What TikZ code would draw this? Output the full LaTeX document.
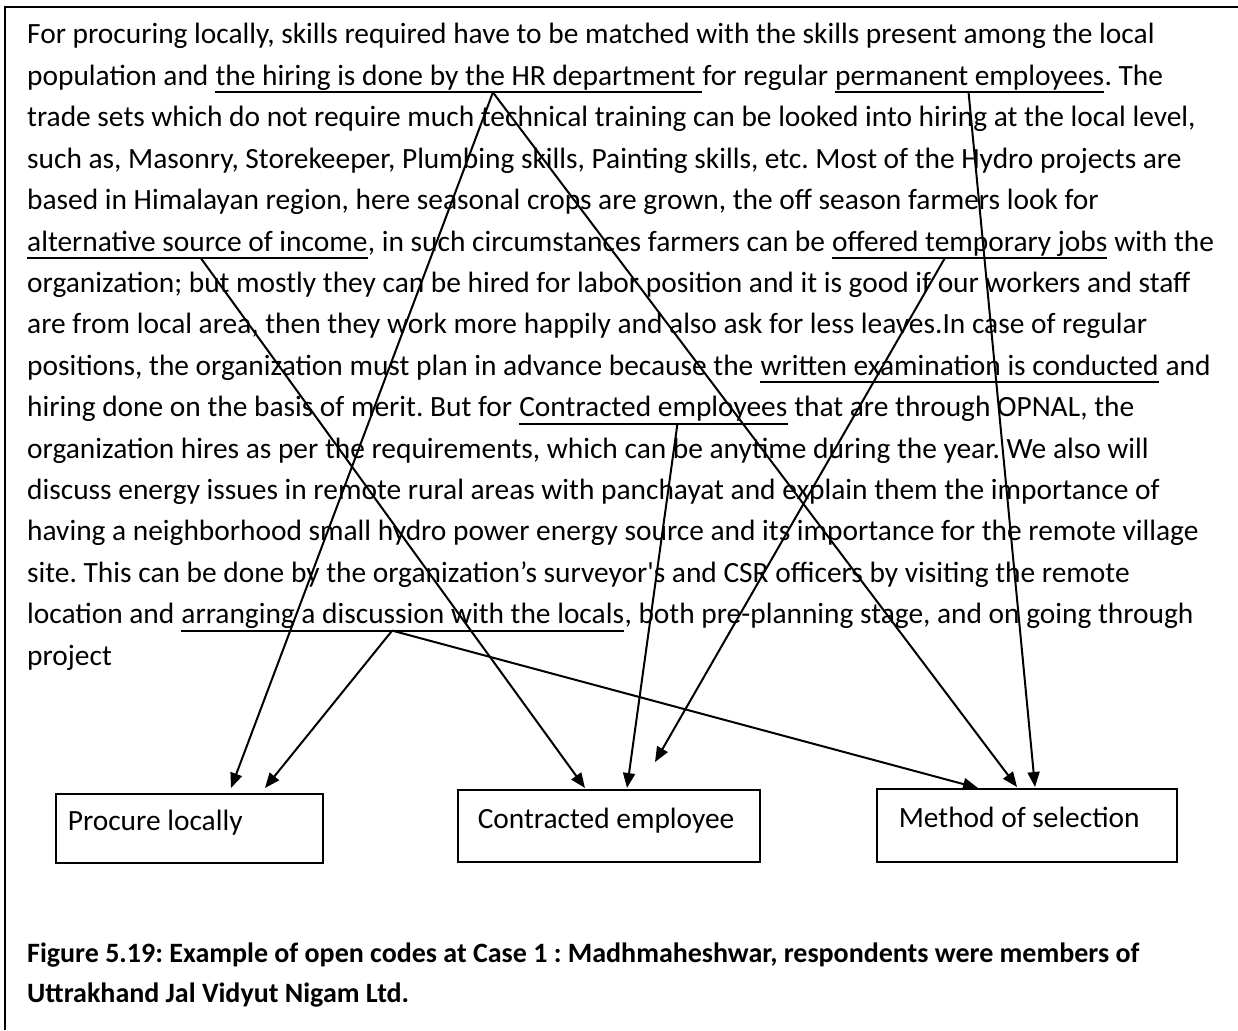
\documentclass[tikz,border=0pt]{standalone}
\usepackage{fontspec}
\setmainfont{Carlito}
\usetikzlibrary{arrows.meta,calc}

\newcommand\bodysize{\fontsize{29.4}{34}\selectfont\frenchspacing}
\newcommand\captsize{\fontsize{28}{34}\selectfont\bfseries\frenchspacing}

\begin{document}
\begin{tikzpicture}[x=1pt,y=-1pt,
  txt/.style={inner sep=0pt, anchor=base west, font=\bodysize},
  uline/.style={line width=2pt},
  link/.style={line width=2pt, -{Triangle[length=15pt,width=12pt]}},
  codebox/.style={draw, line width=1.6pt, anchor=north west, inner ysep=0pt, inner xsep=0pt,
    font=\bodysize, text height=22pt, text depth=17pt},
  capt/.style={inner sep=0pt, anchor=base west, font=\captsize}]

\useasboundingbox (0,0) rectangle (1238,1030);
% page frame (only its top and left sides fall on the page)
\draw[line width=2pt] (5,1030) -- (5,7) -- (1238,7);

% ---- interview text, one node per printed line ----
\node[txt] (l1) at (27,44) {For procuring locally, skills required have to be matched with the skills present among the local};

\node[txt] (l2a) at (27,85.4) {population and\ \null};
\node[txt] (hr) at (l2a.base east) {the hiring is done by the HR department\ \null};
\node[txt] (l2b) at (hr.base east) {for regular\ \null};
\node[txt] (perm) at (l2b.base east) {permanent employees};
\node[txt] (l2c) at (perm.base east) {. The};

\node[txt] (l3) at (27,126.8) {trade sets which do not require much technical training can be looked into hiring at the local level,};
\node[txt] (l4) at (27,168.2) {such as, Masonry, Storekeeper, Plumbing skills, Painting skills, etc. Most of the Hydro projects are};
\node[txt] (l5) at (27,209.6) {based in Himalayan region, here seasonal crops are grown, the off season farmers look for};

\node[txt] (alt) at (27,251) {alternative source of income};
\node[txt] (l6a) at (alt.base east) {, in such circumstances farmers can be\ \null};
\node[txt] (off) at (l6a.base east) {offered temporary jobs};
\node[txt] (l6b) at (off.base east) {\ with the};

\node[txt] (l7) at (27,292.4) {organization; but mostly they can be hired for labor position and it is good if our workers and staff};
\node[txt] (l8) at (27,333.8) {are from local area, then they work more happily and also ask for less leaves.In case of regular};

\node[txt] (l9a) at (27,375.2) {positions, the organization must plan in advance because the\ \null};
\node[txt] (exam) at (l9a.base east) {written examination is conducted};
\node[txt] (l9b) at (exam.base east) {\ and};

\node[txt] (l10a) at (27,416.6) {hiring done on the basis of merit. But for\ \null};
\node[txt] (con) at (l10a.base east) {Contracted employees};
\node[txt] (l10b) at (con.base east) {\ that are through OPNAL, the};

\node[txt] (l11) at (27,458) {organization hires as per the requirements, which can be anytime during the year. We also will};
\node[txt] (l12) at (27,499.4) {discuss energy issues in remote rural areas with panchayat and explain them the importance of};
\node[txt] (l13) at (27,540.8) {having a neighborhood small hydro power energy source and its importance for the remote village};
\node[txt] (l14) at (27,582.2) {site. This can be done by the organization’s surveyor\textquotesingle s and CSR officers by visiting the remote};

\node[txt] (l15a) at (27,623.6) {location and\ \null};
\node[txt] (arr) at (l15a.base east) {arranging a discussion with the locals};
\node[txt] (l15b) at (arr.base east) {, both pre-planning stage, and on going through};

\node[txt] (l16) at (27,665) {project};

% ---- underlines and the points where the links leave them ----
\foreach \n/\f in {hr/0.57, perm/0.496, alt/0.51, off/0.41, exam/0.5, con/0.59, arr/0.476}{
  \coordinate (\n L) at ([yshift=-7pt]\n.base west);
  \coordinate (\n R) at ([yshift=-7pt]\n.base east);
  \draw[uline] (\n L) -- (\n R);
  \coordinate (\n S) at ($(\n L)!\f!(\n R)$);
}

% ---- code boxes ----
\node[codebox, minimum width=267pt, minimum height=69pt] (procure) at (55,793)
  {\makebox[243pt][l]{Procure locally}};
\node[codebox, minimum width=302pt, minimum height=72pt] (contracted) at (457,789)
  {\makebox[262pt][l]{Contracted employee}};
\node[codebox, minimum width=300pt, minimum height=73pt] (method) at (876,788)
  {\makebox[256pt][l]{Method of selection}};

% ---- links from coded phrases to codes ----
\draw[link] (hrS) -- ($(procure.north west)+(176,-5)$);
\draw[link] (arrS) -- ($(procure.north west)+(210,-5)$);
\draw[link] (altS) -- ($(contracted.north west)+(128,-1)$);
\draw[link] (conS) -- ($(contracted.north west)+(170,-1)$);
\draw[link] (offS) -- ($(contracted.north west)+(198,-27)$);
\draw[link] (arrS) -- ($(method.north west)+(102,0)$);
\draw[link] (hrS) -- ($(method.north west)+(141,-1)$);
\draw[link] (permS) -- ($(method.north west)+(159,-1)$);

% ---- caption ----
\node[capt] (cap1) at (27,962) {Figure 5.19: Example of open codes at Case 1 : Madhmaheshwar, respondents were members of};
\node[capt] (cap2) at (27,1002) {Uttrakhand Jal Vidyut Nigam Ltd.};
\end{tikzpicture}
\end{document}
